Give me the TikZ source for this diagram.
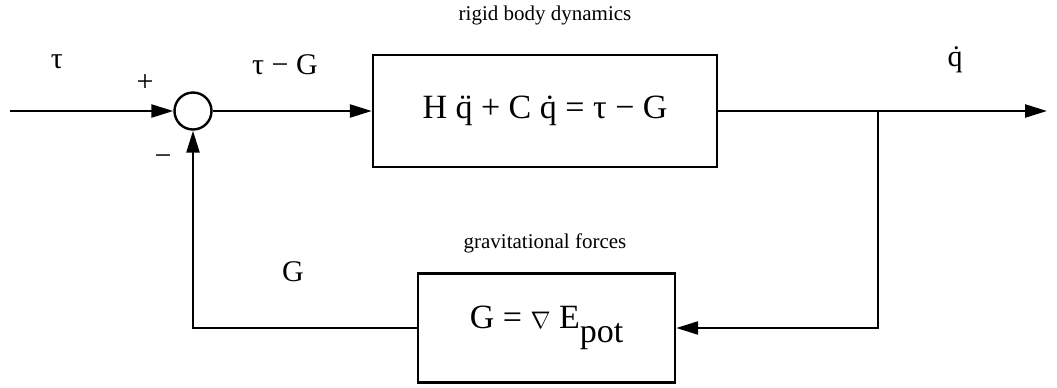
\documentclass[tikz,border=0pt]{standalone}
\usepackage{fontspec}
\setmainfont{Liberation Serif}
\usetikzlibrary{arrows.meta, positioning}

\begin{document}
\begin{tikzpicture}[x=0.5pt, y=-0.5pt, line width=1.2pt, >={Triangle[length=11pt,width=6.5pt]},
	blockbox/.style={draw, inner sep=0pt, font=\fontsize{17}{20}\selectfont},
	sumcirc/.style={draw, circle, minimum size=18.5pt, inner sep=0pt},
	lbl/.style={inner sep=0pt, font=\fontsize{10.5}{12}\selectfont},
	sym/.style={inner sep=0pt, font=\fontsize{15}{18}\selectfont}]
	\useasboundingbox (0,0) rectangle (1057,387);
	\coordinate (in) at (10,111);
	\coordinate (out) at (1047,111);
	\coordinate (branch) at (878,111);
	\node[sumcirc] (sum) at (193,111) {};
	\node[blockbox, minimum width=172pt, minimum height=56pt] (dyn) at (545,111) {H\ \"{q}\ + C\ \.{q}\ = τ − G};
	\node[blockbox, minimum width=128.5pt, minimum height=54.5pt] (grav) at (546.5,328) {G = {\fontsize{12}{12}\selectfont$\nabla$} E\raisebox{-0.9ex}{pot}};
	\draw[->] (in) -- (sum.west);
	\draw[->] (sum.east) -- (dyn.west);
	\draw[->] (dyn.east) -- (out);
	\draw[->] (branch) |- (grav.east);
	\draw[->] (grav.west) -| (sum.south);
	\node[sym] (tauin) at (57,62) {τ};
	\node[sym] (plus) at (145,83) {+};
	\node[sym] (minus) at (163,160) {−};
	\node[sym] (err) at (285,65) {τ − G};
	\node[sym] (qdot) at (955,60) {\.{q}};
	\node[sym] (gfb) at (293,272) {G};
	\node[lbl] (dynlbl) at (545,15) {rigid body dynamics};
	\node[lbl] (gravlbl) at (545,243) {gravitational forces};
\end{tikzpicture}
\end{document}
